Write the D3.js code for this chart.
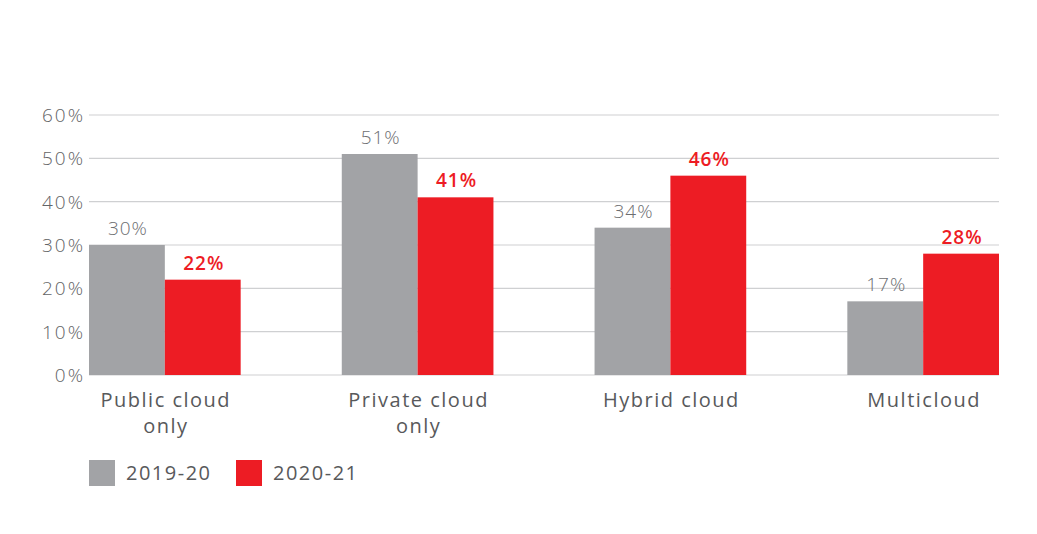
<!DOCTYPE html>
<html>
<head>
<meta charset="utf-8">
<script src="https://cdn.jsdelivr.net/npm/d3@7"></script>
<style>
  body { margin: 0; background: #fff; }
  svg text { font-family: 'Open Sans', sans-serif; }
</style>
</head>
<body>
<script>
// data
var categories = [['Public cloud', 'only'], ['Private cloud', 'only'], ['Hybrid cloud'], ['Multicloud']];
var seriesNames = ['2019-20', '2020-21'];
var values2019 = [30, 51, 34, 17];
var values2020 = [22, 41, 46, 28];
var yTicks = [0, 10, 20, 30, 40, 50, 60];

var colors = ['#a2a3a6', '#ed1c24'];
var labelColors = ['#6d6e71', '#ed1c24'];

var w = 1037,
    h = 534;

var svg = d3.select('body')
            .append('svg')
            .attr('width', w)
            .attr('height', h);

var x0 = d3.scaleBand()
           .domain(d3.range(categories.length))
           .range([89, 999])
           .paddingInner(0.4)
           .paddingOuter(0);

var x1 = d3.scaleBand()
           .domain([0, 1])
           .range([0, x0.bandwidth()]);

var y = d3.scaleLinear()
          .domain([0, 60])
          .range([375, 115]);

// gridlines
svg.selectAll('line.grid')
   .data(yTicks)
   .enter()
   .append('line')
   .attr('class', 'grid')
   .attr('x1', 89)
   .attr('x2', 999)
   .attr('y1', function(d) { return y(d); })
   .attr('y2', function(d) { return y(d); })
   .attr('stroke', '#cfd0d2')
   .attr('stroke-width', 1.2);

// y tick labels (extra x offset to make up for trailing letter-spacing)
svg.selectAll('text.ytick')
   .data(yTicks)
   .enter()
   .append('text')
   .attr('class', 'ytick')
   .attr('x', 85)
   .attr('y', function(d) { return y(d) + 7; })
   .attr('text-anchor', 'end')
   .attr('font-size', '19px')
   .attr('font-weight', 300)
   .attr('letter-spacing', '2px')
   .attr('fill', '#636466')
   .text(function(d) { return d + '%'; });

// bars
var rows = categories.map(function(c, i) {
   return [values2019[i], values2020[i]];
});

var groups = svg.selectAll('g.group')
   .data(rows)
   .enter()
   .append('g')
   .attr('class', 'group')
   .attr('transform', function(d, i) { return 'translate(' + x0(i) + ',0)'; });

groups.selectAll('rect')
   .data(function(d) { return d; })
   .enter()
   .append('rect')
   .attr('x', function(d, j) { return x1(j); })
   .attr('y', function(d) { return y(d); })
   .attr('width', x1.bandwidth())
   .attr('height', function(d) { return y(0) - y(d); })
   .attr('fill', function(d, j) { return colors[j]; });

groups.selectAll('text')
   .data(function(d) { return d; })
   .enter()
   .append('text')
   .attr('x', function(d, j) { return x1(j) + x1.bandwidth() / 2 + 1; })
   .attr('y', function(d) { return y(d) - 10; })
   .attr('text-anchor', 'middle')
   .attr('font-size', '19px')
   .attr('letter-spacing', '1px')
   .attr('font-weight', function(d, j) { return j === 1 ? 600 : 300; })
   .attr('fill', function(d, j) { return labelColors[j]; })
   .text(function(d) { return d + '%'; });

// category labels
svg.selectAll('text.cat')
   .data(categories)
   .enter()
   .append('text')
   .attr('class', 'cat')
   .attr('text-anchor', 'middle')
   .attr('font-size', '20px')
   .attr('letter-spacing', '1.5px')
   .attr('fill', '#58595b')
   .each(function(d, i) {
      var t = d3.select(this);
      d.forEach(function(line, k) {
         t.append('tspan')
          .attr('x', x0(i) + x0.bandwidth() / 2 + 1)
          .attr('y', 407 + k * 26)
          .text(line);
      });
   });

// legend
var legend = svg.selectAll('g.legend')
   .data(seriesNames)
   .enter()
   .append('g')
   .attr('class', 'legend')
   .attr('transform', function(d, i) { return 'translate(' + (89 + i * 147) + ',460)'; });

legend.append('rect')
   .attr('width', 26)
   .attr('height', 26)
   .attr('fill', function(d, i) { return colors[i]; });

legend.append('text')
   .attr('x', 37)
   .attr('y', 20)
   .attr('font-size', '20px')
   .attr('letter-spacing', '1.5px')
   .attr('fill', '#58595b')
   .text(function(d) { return d; });
</script>
</body>
</html>
